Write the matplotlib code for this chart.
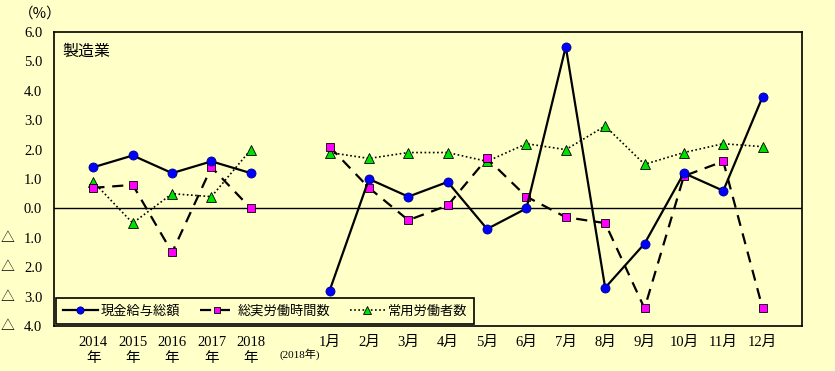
import numpy as np
import matplotlib
matplotlib.use("Agg")
import matplotlib.pyplot as plt

plt.rcParams['font.family'] = ['Liberation Serif', 'Noto Sans CJK JP', 'DejaVu Sans']

categories = ["2014\n年", "2015\n年", "2016\n年", "2017\n年", "2018\n年", "",
              "1月", "2月", "3月", "4月", "5月", "6月", "7月", "8月", "9月", "10月", "11月", "12月"]
wages = [1.4, 1.8, 1.2, 1.6, 1.2, np.nan,
         -2.8, 1.0, 0.4, 0.9, -0.7, 0.0, 5.5, -2.7, -1.2, 1.2, 0.6, 3.8]
hours = [0.7, 0.8, -1.5, 1.4, 0.0, np.nan,
         2.1, 0.7, -0.4, 0.1, 1.7, 0.4, -0.3, -0.5, -3.4, 1.1, 1.6, -3.4]
workers = [0.9, -0.5, 0.5, 0.4, 2.0, np.nan,
           1.9, 1.7, 1.9, 1.9, 1.6, 2.2, 2.0, 2.8, 1.5, 1.9, 2.2, 2.1]
series_names = ["現金給与総額", "総実労働時間数", "常用労働者数"]
yticks = [6.0, 5.0, 4.0, 3.0, 2.0, 1.0, 0.0, -1.0, -2.0, -3.0, -4.0]
title = "製造業"
unit = "（%）"
year_note = "(2018年)"

bg = "#FFFFC8"
cjk = ['Noto Sans CJK JP', 'DejaVu Sans']
fig = plt.figure(figsize=(8.35, 3.71), dpi=100, facecolor=bg)
ax = fig.add_axes([54/835, 1-326/371, 748/835, 294/371], facecolor=bg)

x = np.arange(len(categories))
ax.plot(x, wages, color="black", lw=1.6, ls="-", marker="o", ms=6.5,
        mfc="#0000FF", mec="#000080", mew=0.6, label=series_names[0], zorder=5)
ax.plot(x, hours, color="black", lw=1.6, ls=(0, (5, 3.5)), marker="s", ms=5.5,
        mfc="#FF00FF", mec="#000000", mew=0.6, label=series_names[1], zorder=4)
ax.plot(x, workers, color="black", lw=1.2, ls=(0, (1, 1.5)), marker="^", ms=6.5,
        mfc="#00E000", mec="#000000", mew=0.6, label=series_names[2], zorder=3)

ax.axhline(0, color="black", lw=1.0, zorder=2)
ax.set_xlim(-1, 18)
ax.set_ylim(-4, 6)

ax.set_xticks(x)
ax.set_xticklabels(categories, fontsize=10.5, linespacing=1.35, va="top")
ax.set_yticks(yticks)
ax.set_yticklabels([f"{abs(v):.1f}" for v in yticks], fontsize=10.5)
ax.tick_params(axis="both", length=0)
ax.tick_params(axis="x", pad=7)
ax.tick_params(axis="y", pad=8.5)

for v in yticks:
    if v < 0:
        ax.text(-0.0615, v, "△", transform=ax.get_yaxis_transform(),
                ha="center", va="center", fontsize=10, family=cjk)

for s in ax.spines.values():
    s.set_color("black")
    s.set_linewidth(1.2)

ax.text(0.011, 0.935, title, transform=ax.transAxes, fontsize=11.5,
        family=cjk, ha="left", va="center")
fig.text(19/835, 1-14/371, unit, fontsize=10.5, family=cjk,
         ha="left", va="center")
ax.text(5.25, -4.95, year_note, transform=ax.transData, fontsize=8,
        ha="center", va="center", clip_on=False)

leg = ax.legend(loc="lower left", bbox_to_anchor=(0.003, 0.007), ncol=3,
                frameon=True, fancybox=False, edgecolor="black", facecolor=bg,
                framealpha=1, handlelength=2.65, handletextpad=0.25,
                columnspacing=1.45, borderpad=0.5, borderaxespad=0.0,
                markerscale=0.8, prop={"family": cjk, "size": 9.5})
leg.get_frame().set_linewidth(1.2)

fig.savefig("out.png", dpi=100, facecolor=bg)
